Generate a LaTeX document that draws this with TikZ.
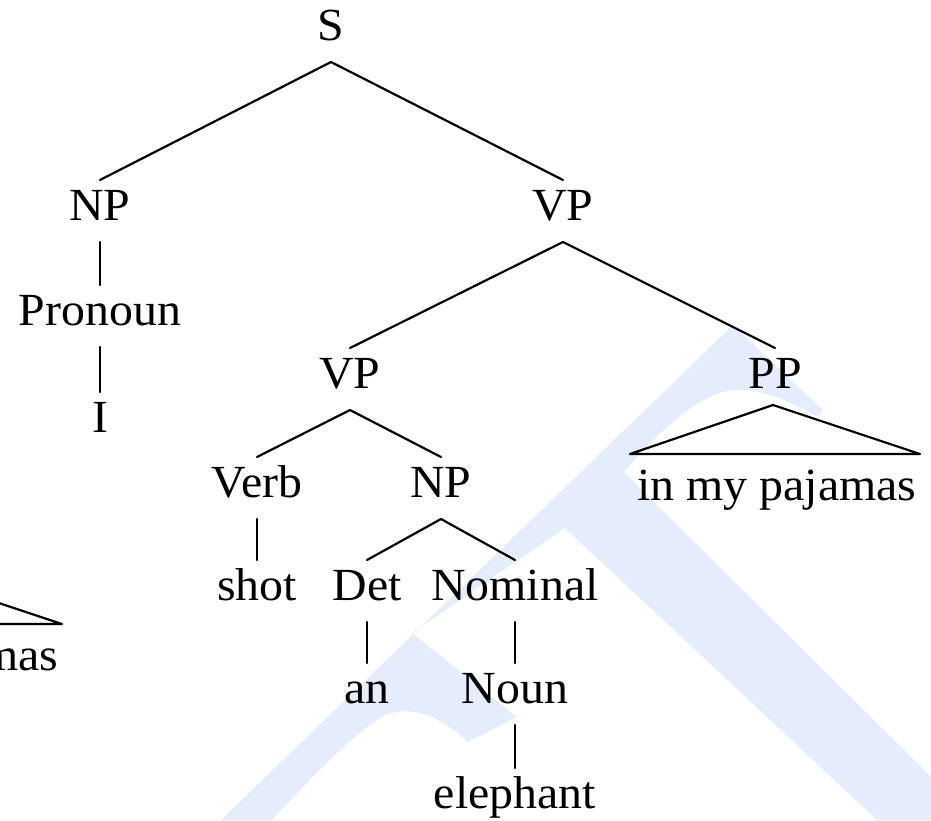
\documentclass[tikz,border=0pt]{standalone}
\usepackage{fontspec}
\setmainfont{Liberation Serif}[FakeStretch=1.04]
\definecolor{wmblue}{RGB}{229,236,252}
\begin{document}
\begin{tikzpicture}[x=0.5pt,y=-0.5pt,
  lab/.style={anchor=base, font=\fontsize{23}{27}\selectfont, inner xsep=0pt,
    inner ysep=4.5pt, text height=15.5pt, text depth=6.5pt, outer sep=0pt},
  branch/.style={line width=1.1pt, line cap=round, line join=round}]
\useasboundingbox (0,0) rectangle (931,820);
\clip (0,0) rectangle (931,820);
% watermark
\fill[wmblue] (221,820) -- (733,325) -- (823,410) -- (818,417)
  .. controls (780,395) and (748,385) .. (722,392)
  .. controls (690,402) and (650,440) .. (624,472)
  -- (931,777) -- (931,820) -- (877,820) -- (565,528) -- (412,633)
  -- (517,717) -- (468,742)
  .. controls (440,715) and (410,705) .. (385,715)
  .. controls (350,735) and (300,790) .. (272,820) -- cycle;
% nodes
\node[lab] (s) at (331,40) {S};
\node[lab] (np1) at (100,220) {NP};
\node[lab] (vp1) at (563,220) {VP};
\node[lab] (pron) at (100,325) {Pronoun};
\node[lab] (i) at (100,432) {I};
\node[lab] (vp2) at (350,388) {VP};
\node[lab] (pp) at (775,388) {PP};
\node[lab] (verb) at (257,497) {Verb};
\node[lab] (np2) at (441,497) {NP};
\node[lab] (shot) at (257,600) {shot};
\node[lab] (det) at (367,600) {Det};
\node[lab] (nom) at (515,600) {Nominal};
\node[lab] (an) at (367,703) {an};
\node[lab] (noun) at (515,703) {Noun};
\node[lab] (eleph) at (515,808) {elephant};
\node[lab] (pj) at (777,500) {in my pajamas};
\node[lab] (pjcopy) at (-81,670) {in my pajamas};
\coordinate (ppapex) at (773,405);
\coordinate (ppl) at (630,454);
\coordinate (ppr) at (920,454);
\coordinate (cpapex) at (-85,575);
\coordinate (cpl) at (-228,624);
\coordinate (cpr) at (62,624);
% branches
\draw[branch] (np1.north) -- (s.south) -- (vp1.north);
\draw[branch] (np1.south) -- (pron.north);
\draw[branch] (pron.south) -- (i.north);
\draw[branch] (vp2.north) -- (vp1.south) -- (pp.north);
\draw[branch] (verb.north) -- (vp2.south) -- (np2.north);
\draw[branch] (verb.south) -- (shot.north);
\draw[branch] (det.north) -- (np2.south) -- (nom.north);
\draw[branch] (det.south) -- (an.north);
\draw[branch] (nom.south) -- (noun.north);
\draw[branch] (noun.south) -- (eleph.north);
\draw[branch] (ppapex) -- (ppl) -- (ppr) -- cycle;
\draw[branch] (cpapex) -- (cpl) -- (cpr) -- cycle;
\end{tikzpicture}
\end{document}
